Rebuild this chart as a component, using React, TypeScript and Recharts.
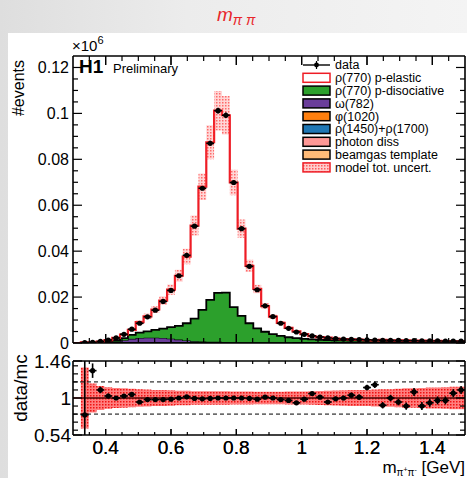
import React from "react";
import {
    ComposedChart,
    Area,
    Scatter,
    ErrorBar,
    XAxis,
    YAxis,
    ReferenceLine,
} from "recharts";

// binning of the m(pi pi) histogram, GeV
const BIN_START = 0.3;
const BIN_WIDTH = 0.024;

// events per bin (x10^6)
const dataEvents = [
    0, 0.0002, 0.0003, 0.0007, 0.0013, 0.0022, 0.0038, 0.006, 0.0086, 0.0114,
    0.0143, 0.0181, 0.0229, 0.0293, 0.0382, 0.0509, 0.0674, 0.087, 0.1012, 0.0992,
    0.0699, 0.0498, 0.0334, 0.0232, 0.0162, 0.0115, 0.0086, 0.0064, 0.0048, 0.0038,
    0.0031, 0.0026, 0.0022, 0.0019, 0.0017, 0.0016, 0.0015, 0.0014, 0.0013, 0.0012,
    0.0012, 0.0011, 0.001, 0.001, 0.0009, 0.0009, 0.0009, 0.0008, 0.0008, 0.0008,
];

// data / mc
const ratioValues = [
    null, 0.79, 1.34, 1.1, 1.025, 1.0, 1.025, 1.045, 0.95, 0.98,
    0.98, 0.98, 0.985, 1.0, 1.015, 0.995, 0.99, 0.995, 1.0, 1.0,
    1.0, 1.0, 0.995, 0.985, 1.01, 1.0, 0.98, 0.97, 0.94, 0.985,
    1.055, 1.01, 0.95, 0.99, 1.0, 1.035, 1.01, 1.13, 1.165, 0.91,
    1.0, 0.95, 0.9, 1.075, 0.9, 0.94, 0.97, 0.97, 1.06, 1.1,
];

const ratioErr: any[] = [
    0, [0.25, 0.67], 0.09, 0.04, 0.03, 0.02, 0.02, 0.018, 0.016, 0.015,
    0.014, 0.013, 0.012, 0.012, 0.012, 0.012, 0.012, 0.012, 0.012, 0.012,
    0.012, 0.012, 0.012, 0.013, 0.014, 0.015, 0.016, 0.017, 0.018, 0.02,
    0.02, 0.022, 0.024, 0.026, 0.028, 0.03, 0.032, 0.035, 0.04, 0.04,
    0.04, 0.042, 0.045, 0.05, 0.05, 0.05, 0.05, 0.05, 0.05, 0.05,
];

// relative model uncertainty
const modelUnc = [
    0, 0.38, 0.18, 0.15, 0.135, 0.125, 0.12, 0.115, 0.11, 0.105,
    0.1, 0.1, 0.095, 0.09, 0.09, 0.085, 0.085, 0.085, 0.085, 0.085,
    0.08, 0.08, 0.08, 0.078, 0.078, 0.078, 0.078, 0.08, 0.08, 0.082,
    0.085, 0.088, 0.09, 0.092, 0.095, 0.098, 0.1, 0.1, 0.105, 0.11,
    0.11, 0.115, 0.12, 0.12, 0.125, 0.13, 0.13, 0.135, 0.14, 0.14,
];

// model components (x10^6)
const pDiss = [
    0, 0.0001, 0.0001, 0.0002, 0.0003, 0.0005, 0.0009, 0.0017, 0.0023, 0.0028,
    0.0034, 0.0041, 0.005, 0.006, 0.0075, 0.0098, 0.0138, 0.0183, 0.0213, 0.0215,
    0.0153, 0.0115, 0.0083, 0.0061, 0.0046, 0.0036, 0.0028, 0.0022, 0.0017, 0.0014,
    0.0012, 0.001, 0.0009, 0.0008, 0.0007, 0.0006, 0.0006, 0.0005, 0.0005, 0.0005,
    0.0004, 0.0004, 0.0004, 0.0003, 0.0003, 0.0003, 0.0003, 0.0002, 0.0002, 0.0002,
];
const omega = [
    0, 0, 0, 0, 0.0001, 0.0003, 0.0008, 0.0014, 0.0018, 0.0019,
    0.0019, 0.0018, 0.0015, 0.0011, 0.0007, 0.0004, 0.0002, 0.0001, 0.0001, 0,
    0, 0, 0, 0, 0, 0, 0, 0, 0, 0,
    0, 0, 0, 0, 0, 0, 0, 0, 0, 0,
    0, 0, 0, 0, 0, 0, 0, 0, 0, 0,
];
const phi = [
    0, 0, 0, 0, 0, 0, 0, 0, 0, 0,
    0, 0, 0, 0, 0, 0, 0, 0, 0, 0,
    0, 0, 0, 0, 0, 0, 0, 0, 0.0001, 0.0001,
    0, 0, 0, 0, 0, 0, 0, 0, 0, 0,
    0, 0, 0, 0, 0, 0, 0, 0, 0, 0,
];
const rho1450 = [
    0, 0, 0, 0.0001, 0.0001, 0.0001, 0.0001, 0.0001, 0.0001, 0.0001,
    0.0001, 0.0001, 0.0001, 0.0001, 0.0001, 0.0001, 0.0001, 0.0001, 0.0001, 0.0001,
    0.0001, 0.0001, 0.0001, 0.0001, 0.0001, 0.0001, 0.0001, 0.0001, 0.0001, 0.0001,
    0.0002, 0.0002, 0.0002, 0.0002, 0.0002, 0.0002, 0.0002, 0.0002, 0.0002, 0.0002,
    0.0002, 0.0002, 0.0002, 0.0002, 0.0002, 0.0002, 0.0002, 0.0002, 0.0002, 0.0002,
];
const photonDiss = [
    0, 0, 0, 0, 0.0001, 0.0001, 0.0001, 0.0001, 0.0001, 0.0001,
    0.0001, 0.0001, 0.0001, 0.0001, 0.0001, 0.0001, 0.0001, 0.0001, 0.0001, 0.0001,
    0.0001, 0.0001, 0.0001, 0.0001, 0.0001, 0.0001, 0.0001, 0.0001, 0.0001, 0.0001,
    0.0001, 0.0001, 0.0001, 0.0001, 0.0001, 0.0001, 0.0001, 0.0001, 0.0001, 0.0001,
    0.0001, 0.0001, 0.0001, 0.0001, 0.0001, 0.0001, 0.0001, 0.0001, 0.0001, 0.0001,
];
const beamgas = [
    0, 0, 0.0001, 0.0001, 0.0001, 0.0002, 0.0002, 0.0002, 0.0002, 0.0002,
    0.0002, 0.0002, 0.0002, 0.0002, 0.0002, 0.0002, 0.0002, 0.0002, 0.0002, 0.0002,
    0.0001, 0.0001, 0.0001, 0.0001, 0.0001, 0.0001, 0.0001, 0.0001, 0.0001, 0.0001,
    0.0001, 0.0001, 0.0001, 0.0001, 0.0001, 0.0001, 0.0001, 0.0001, 0.0001, 0.0001,
    0.0001, 0.0001, 0.0001, 0.0001, 0.0001, 0.0001, 0.0001, 0.0001, 0.0001, 0.0001,
];

// axis ticks
const mainYMajor = [0, 0.02, 0.04, 0.06, 0.08, 0.1, 0.12];
const ratioYMajor = [0.54, 1, 1.46];
const ratioYMinor = [0.6, 0.7, 0.8, 0.9, 1.1, 1.2, 1.3, 1.4];
const xMajor = [0.4, 0.6, 0.8, 1, 1.2, 1.4];

const legendLabels = [
    "data",
    "ρ(770) p-elastic",
    "ρ(770) p-disociative",
    "ω(782)",
    "φ(1020)",
    "ρ(1450)+ρ(1700)",
    "photon diss",
    "beamgas template",
    "model tot. uncert.",
];

const RED = "#ee1c25";
const COLORS = {
    pDiss: "#2ca02c",
    omega: "#6a3d9a",
    phi: "#ff7f0e",
    rho1450: "#1f77b4",
    photonDiss: "#ff9896",
    beamgas: "#ffbb78",
};
const FONT = "'Liberation Sans', Arial, Helvetica, sans-serif";

const mainYTicks: number[] = [];
for (let v = 0; v <= 0.1201; v += 0.005) mainYTicks.push(+v.toFixed(3));
const xTicks: number[] = [];
for (let v = 0.35; v <= 1.4501; v += 0.05) xTicks.push(+v.toFixed(2));
const ratioYTicks = [...ratioYMajor, ...ratioYMinor].sort((a, b) => a - b);

const nBins = dataEvents.length;
const mcTotal = dataEvents.map((d, i) => (ratioValues[i] ? d / (ratioValues[i] as number) : 0));
const pElastic = mcTotal.map((t, i) =>
    Math.max(0, t - pDiss[i] - omega[i] - phi[i] - rho1450[i] - photonDiss[i] - beamgas[i])
);

// histogram rows at bin edges (step after)
const histRows = Array.from({ length: nBins + 1 }, (_, k) => {
    const i = Math.min(k, nBins - 1);
    return {
        x: +(BIN_START + k * BIN_WIDTH).toFixed(4),
        beamgas: beamgas[i],
        photonDiss: photonDiss[i],
        rho1450: rho1450[i],
        phi: phi[i],
        omega: omega[i],
        pDiss: pDiss[i],
        pElastic: pElastic[i],
        band: [mcTotal[i] * (1 - modelUnc[i]), mcTotal[i] * (1 + modelUnc[i])],
        rband: [1 - modelUnc[i], 1 + modelUnc[i]],
    };
});

const relErr = (e: any, v: number) => (Array.isArray(e) ? [e[0] * v, e[1] * v] : e * v);

const dataPoints = dataEvents
    .map((d, i) => ({
        x: BIN_START + (i + 0.5) * BIN_WIDTH,
        y: d,
        ex: BIN_WIDTH / 2,
        ey: relErr(ratioErr[i], d),
    }))
    .filter((_, i) => i > 0);

const ratioPoints = ratioValues
    .map((r, i) => ({
        x: BIN_START + (i + 0.5) * BIN_WIDTH,
        y: r,
        ex: BIN_WIDTH / 2,
        ey: ratioErr[i],
    }))
    .filter((p) => p.y !== null);

const fmt = (v: number) => String(+v.toFixed(3));

function axisTick(
    side: string,
    majors: number[],
    big: number,
    small: number,
    margin: number,
    fontSize: number,
    labels: boolean
) {
    return (props: any) => {
        const { x, y, payload } = props;
        const v = payload.value;
        const isMajor = majors.some((m) => Math.abs(m - v) < 1e-6);
        const len = isMajor ? big : small;
        let x1 = x, y1 = y, x2 = x, y2 = y;
        let tx = x, ty = y, anchor = "middle";
        if (side === "left") {
            x1 = x + margin; x2 = x1 + len;
            anchor = "end"; ty = y + fontSize * 0.36;
        } else if (side === "right") {
            x1 = x - margin; x2 = x1 - len;
        } else if (side === "top") {
            y1 = y + margin; y2 = y1 + len;
        } else {
            y1 = y - margin; y2 = y1 - len;
            ty = y + fontSize * 0.73;
        }
        return (
            <g>
                <line x1={x1} y1={y1} x2={x2} y2={y2} stroke="#000" strokeWidth={1.2} />
                {labels && isMajor && (
                    <text x={tx} y={ty} textAnchor={anchor} fontSize={fontSize} fontFamily={FONT} fill="#000">
                        {fmt(v)}
                    </text>
                )}
            </g>
        );
    };
}

const axisLine = { stroke: "#000", strokeWidth: 1.6 };

const dot = (p: any) => <circle cx={p.cx} cy={p.cy} r={2.6} fill="#000" />;

function MainPanel() {
    return (
        <ComposedChart
            width={467}
            height={362}
            data={histRows}
            margin={{ top: 55, right: 0, bottom: 0, left: 0 }}
        >
            <defs>
                <pattern id="hatchMain" patternUnits="userSpaceOnUse" width="3" height="3">
                    <rect x="0" y="0" width="3" height="3" fill="#ff5a5a" fillOpacity="0.25" />
                    <rect x="0" y="0" width="1.5" height="1.5" fill="#ff1010" fillOpacity="0.55" />
                </pattern>
            </defs>
            <XAxis
                dataKey="x" type="number" domain={[0.3, 1.5]} allowDataOverflow
                ticks={[...xTicks, ...xMajor]} interval={0} height={19}
                tickSize={0} tickMargin={0} tickLine={false} axisLine={axisLine}
                tick={axisTick("bottom", xMajor, 9, 5, 0, 16, false)}
            />
            <XAxis
                xAxisId="t" orientation="top" dataKey="x" type="number" domain={[0.3, 1.5]}
                allowDataOverflow ticks={[...xTicks, ...xMajor]} interval={0} height={1}
                tickSize={0} tickMargin={0} tickLine={false} axisLine={axisLine}
                tick={axisTick("top", xMajor, 9, 5, 0, 16, false)}
            />
            <YAxis
                type="number" domain={[0, 0.125]} allowDataOverflow ticks={mainYTicks}
                interval={0} width={73} tickSize={0} tickMargin={4} tickLine={false}
                axisLine={axisLine} tick={axisTick("left", mainYMajor, 9, 5, 4, 16, true)}
            />
            <YAxis
                yAxisId="r" orientation="right" type="number" domain={[0, 0.125]}
                allowDataOverflow ticks={mainYTicks} interval={0} width={2} tickSize={0}
                tickMargin={0} tickLine={false} axisLine={axisLine}
                tick={axisTick("right", mainYMajor, 9, 5, 0, 16, false)}
            />
            <Area type="stepAfter" dataKey="beamgas" stackId="s" fill={COLORS.beamgas} fillOpacity={1} stroke="#000" strokeWidth={1.2} isAnimationActive={false} />
            <Area type="stepAfter" dataKey="photonDiss" stackId="s" fill={COLORS.photonDiss} fillOpacity={1} stroke="#000" strokeWidth={1.2} isAnimationActive={false} />
            <Area type="stepAfter" dataKey="rho1450" stackId="s" fill={COLORS.rho1450} fillOpacity={1} stroke="#000" strokeWidth={1.2} isAnimationActive={false} />
            <Area type="stepAfter" dataKey="phi" stackId="s" fill={COLORS.phi} fillOpacity={1} stroke="#000" strokeWidth={1.2} isAnimationActive={false} />
            <Area type="stepAfter" dataKey="omega" stackId="s" fill={COLORS.omega} fillOpacity={1} stroke="#000" strokeWidth={1.2} isAnimationActive={false} />
            <Area type="stepAfter" dataKey="pDiss" stackId="s" fill={COLORS.pDiss} fillOpacity={1} stroke="#000" strokeWidth={1.8} isAnimationActive={false} />
            <Area type="stepAfter" dataKey="pElastic" stackId="s" fill="#fff" fillOpacity={0} stroke={RED} strokeWidth={2.2} isAnimationActive={false} />
            <Area type="stepAfter" dataKey="band" fill="url(#hatchMain)" fillOpacity={1} stroke="none" isAnimationActive={false} />
            <Scatter data={dataPoints} dataKey="y" shape={dot} isAnimationActive={false}>
                <ErrorBar dataKey="ex" direction="x" width={0} stroke="#000" strokeWidth={1.6} isAnimationActive={false} />
                <ErrorBar dataKey="ey" direction="y" width={0} stroke="#000" strokeWidth={1.6} isAnimationActive={false} />
            </Scatter>
        </ComposedChart>
    );
}

function RatioPanel() {
    return (
        <ComposedChart
            width={467}
            height={128}
            data={histRows}
            margin={{ top: 10, right: 0, bottom: 0, left: 0 }}
        >
            <defs>
                <pattern id="hatchRatio" patternUnits="userSpaceOnUse" width="3" height="3">
                    <rect x="0" y="0" width="3" height="3" fill="#ff2a2a" fillOpacity="0.6" />
                    <rect x="0" y="0" width="1.5" height="1.5" fill="#ee0000" fillOpacity="0.85" />
                </pattern>
            </defs>
            <XAxis
                dataKey="x" type="number" domain={[0.3, 1.5]} allowDataOverflow
                ticks={[...xTicks, ...xMajor]} interval={0} height={43}
                tickSize={0} tickMargin={5} tickLine={false} axisLine={axisLine}
                tick={axisTick("bottom", xMajor, 6, 3, 5, 19, true)}
            />
            <XAxis
                xAxisId="t" orientation="top" dataKey="x" type="number" domain={[0.3, 1.5]}
                allowDataOverflow ticks={[...xTicks, ...xMajor]} interval={0} height={1}
                tickSize={0} tickMargin={0} tickLine={false} axisLine={axisLine}
                tick={axisTick("top", xMajor, 6, 3, 0, 16, false)}
            />
            <YAxis
                type="number" domain={[0.54, 1.46]} allowDataOverflow ticks={ratioYTicks}
                interval={0} width={73} tickSize={0} tickMargin={2} tickLine={false}
                axisLine={axisLine} tick={axisTick("left", ratioYMajor, 9, 5, 2, 19, true)}
            />
            <YAxis
                yAxisId="r" orientation="right" type="number" domain={[0.54, 1.46]}
                allowDataOverflow ticks={ratioYTicks} interval={0} width={2} tickSize={0}
                tickMargin={0} tickLine={false} axisLine={axisLine}
                tick={axisTick("right", ratioYMajor, 9, 5, 0, 16, false)}
            />
            <Area type="stepAfter" dataKey="rband" fill="url(#hatchRatio)" fillOpacity={1} stroke="none" isAnimationActive={false} />
            <ReferenceLine y={1.2} stroke="#000" strokeDasharray="4 3" strokeWidth={1} />
            <ReferenceLine y={0.8} stroke="#000" strokeDasharray="4 3" strokeWidth={1} />
            <ReferenceLine y={1} stroke="#4a0000" strokeWidth={1.3} />
            <Scatter data={ratioPoints} dataKey="y" shape={dot} isAnimationActive={false}>
                <ErrorBar dataKey="ex" direction="x" width={0} stroke="#000" strokeWidth={1.6} isAnimationActive={false} />
                <ErrorBar dataKey="ey" direction="y" width={0} stroke="#000" strokeWidth={1.6} isAnimationActive={false} />
            </Scatter>
        </ComposedChart>
    );
}

const legendFills = ["none", "#fff", COLORS.pDiss, COLORS.omega, COLORS.phi, COLORS.rho1450, COLORS.photonDiss, COLORS.beamgas, "url(#hatchLegend)"];

function Overlay() {
    return (
        <svg width={467} height={478} style={{ position: "absolute", left: 0, top: 0, pointerEvents: "none" }}>
            <defs>
                <pattern id="hatchLegend" patternUnits="userSpaceOnUse" width="3" height="3">
                    <rect x="0" y="0" width="3" height="3" fill="#ff5a5a" fillOpacity="0.3" />
                    <rect x="0" y="0" width="1.5" height="1.5" fill="#ff1010" fillOpacity="0.6" />
                </pattern>
            </defs>
            <text x={217} y={21} fill="#e8262a" fontFamily={FONT} fontStyle="italic" fontSize={19}>
                m<tspan fontSize={14} dy={4}>π π</tspan>
            </text>
            <text x={72} y={51} fontFamily={FONT} fontSize={15}>
                ×10<tspan fontSize={11} dy={-7}>6</tspan>
            </text>
            <text x={79} y={73} fontFamily={FONT} fontSize={19} fontWeight="bold">H1</text>
            <text x={113} y={73} fontFamily={FONT} fontSize={13}>Preliminary</text>
            <text transform="translate(24,60) rotate(-90)" textAnchor="end" fontFamily={FONT} fontSize={16}>#events</text>
            <text transform="translate(27,388) rotate(-90)" textAnchor="middle" fontFamily={FONT} fontSize={19}>data/mc</text>
            <text x={465} y={473} textAnchor="end" fontFamily={FONT} fontSize={17}>
                m<tspan fontSize={10} dy={3}>π</tspan>
                <tspan fontSize={7} dy={-4}>+</tspan>
                <tspan fontSize={10} dy={4}>π</tspan>
                <tspan fontSize={7} dy={-4}>-</tspan>
                <tspan fontSize={17} dy={1}> [GeV]</tspan>
            </text>
            {legendLabels.map((label, i) => {
                const cy = 65 + i * 12.8;
                return (
                    <g key={label}>
                        {i === 0 ? (
                            <g>
                                <line x1={303} y1={cy} x2={330} y2={cy} stroke="#000" strokeWidth={1.4} />
                                <line x1={316.5} y1={cy - 4} x2={316.5} y2={cy + 4} stroke="#000" strokeWidth={1.2} />
                                <circle cx={316.5} cy={cy} r={2.4} fill="#000" />
                            </g>
                        ) : (
                            <rect
                                x={303}
                                y={cy - 4.5}
                                width={27}
                                height={9}
                                fill={legendFills[i]}
                                stroke={i === 1 || i === 8 ? RED : "#000"}
                                strokeWidth={1.5}
                            />
                        )}
                        <text x={335} y={cy + 4.3} fontFamily={FONT} fontSize={12.5}>{label}</text>
                    </g>
                );
            })}
        </svg>
    );
}

export default function App() {
    return (
        <div
            style={{
                position: "absolute",
                left: 0,
                top: 0,
                width: 467,
                height: 478,
                overflow: "hidden",
                background: "linear-gradient(90deg, #dedede 0%, #ececec 40%, #f4f4f4 100%)",
            }}
        >
            <div style={{ position: "absolute", left: 8, top: 33, width: 459, height: 445, background: "#fff" }} />
            <div style={{ position: "absolute", left: 0, top: 0 }}>
                <MainPanel />
            </div>
            <div style={{ position: "absolute", left: 0, top: 350 }}>
                <RatioPanel />
            </div>
            <Overlay />
        </div>
    );
}
